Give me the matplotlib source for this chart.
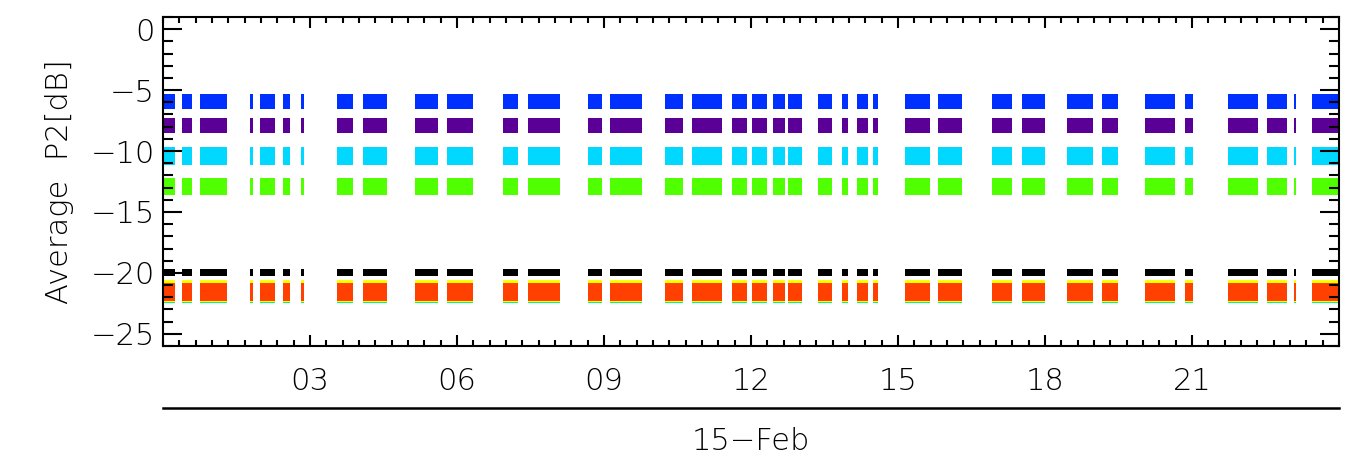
import numpy as np
import matplotlib
matplotlib.use('Agg')
import matplotlib.pyplot as plt
from matplotlib.ticker import MultipleLocator

plt.rcParams['font.family'] = ['DejaVu Sans']
plt.rcParams['font.weight'] = 'light'
plt.rcParams['axes.labelweight'] = 'light'

seg_start = [0.00, 0.39, 0.76, 1.78, 1.98, 2.45, 2.82, 3.55, 4.08, 5.14, 5.80,
             6.94, 7.45, 8.67, 9.12, 10.24, 10.80, 11.61, 12.02, 12.45, 12.76,
             13.37, 13.86, 14.16, 14.49, 15.14, 15.82, 16.92, 17.53, 18.45,
             19.16, 20.04, 20.86, 21.73, 22.53, 23.08, 23.45]
seg_end = [0.25, 0.59, 1.30, 1.84, 2.29, 2.59, 2.88, 3.88, 4.57, 5.61, 6.33,
           7.24, 8.10, 8.96, 9.78, 10.61, 11.41, 11.92, 12.33, 12.69, 13.04,
           13.65, 13.98, 14.39, 14.59, 15.65, 16.30, 17.33, 18.00, 18.98,
           19.49, 20.65, 21.02, 22.35, 22.94, 23.13, 23.98]

# channels: colour, mean level [dB], half spread [dB]
chan_colors = ['#0030ff', '#5a0096', '#00d8ff', '#50ff00',
               'black', '#00ff60', '#ffff00', '#ff4000']
chan_level = [-5.9, -7.9, -10.4, -12.9, -20.0, -21.9, -21.5, -21.55]
chan_spread = [0.62, 0.65, 0.72, 0.72, 0.28, 0.6, 0.9, 0.72]

xticks = [3, 6, 9, 12, 15, 18, 21]
xticklabels = ['03', '06', '09', '12', '15', '18', '21']

fig = plt.figure(figsize=(13.51, 4.73), dpi=100)
ax = fig.add_axes([163/1351, 1-346/473, (1339-163)/1351, (346-17)/473])

start = np.array(seg_start)
width = np.array(seg_end) - start
for col, lev, sp in zip(chan_colors, chan_level, chan_spread):
    ax.bar(start, 2*sp, width=width, bottom=lev-sp, align='edge',
           color=col, linewidth=0)

ax.set_xlim(0, 24)
ax.set_ylim(-26, 1)
ax.set_xticks(xticks)
ax.set_xticklabels(xticklabels)
ax.xaxis.set_minor_locator(MultipleLocator(1/3))
ax.yaxis.set_major_locator(MultipleLocator(5))
ax.yaxis.set_minor_locator(MultipleLocator(1))
ax.tick_params(which='both', direction='in', top=True, right=True,
               labelsize=22, width=1.5)
ax.tick_params(axis='y', which='major', length=14, pad=6)
ax.tick_params(axis='y', which='minor', length=7)
ax.tick_params(axis='x', which='major', length=8, pad=15)
ax.tick_params(axis='x', which='minor', length=4)
for s in ax.spines.values():
    s.set_linewidth(1.5)
ax.set_ylabel('Average  P2[dB]', fontsize=22, labelpad=12)

# date axis below
ax2 = fig.add_axes([163/1351, 1-408/473, (1339-163)/1351, 0.0001])
for k in ['top', 'left', 'right']:
    ax2.spines[k].set_visible(False)
ax2.spines['bottom'].set_linewidth(1.8)
ax2.set_xlim(0, 24)
ax2.set_yticks([])
ax2.set_xticks([])
ax2.set_xlabel('15\u2212Feb', fontsize=22, labelpad=14)

fig.savefig('out.png', dpi=100)
